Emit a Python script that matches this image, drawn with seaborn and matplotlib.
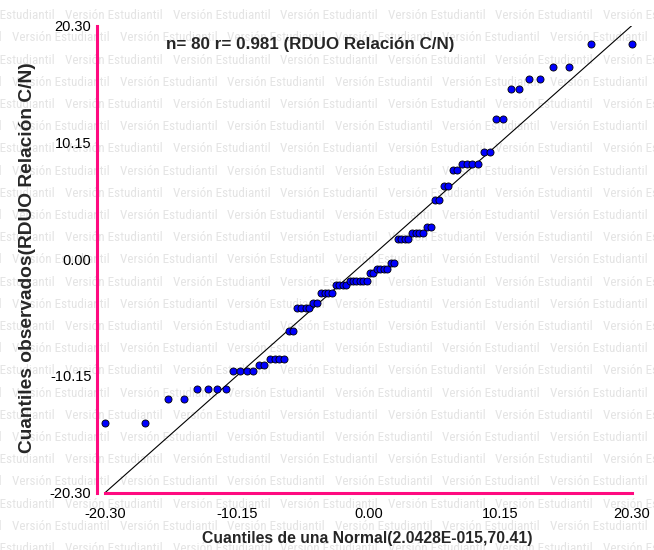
import matplotlib
matplotlib.use("Agg")
import matplotlib.pyplot as plt
from matplotlib import font_manager
import seaborn as sns

# ---------------- data ----------------
# theoretical normal quantiles (x) and observed quantiles (y), read off the chart
theoretical_q = [
    -20.30, -17.19, -15.46, -14.21, -13.22, -12.38, -11.65, -11.00, -10.40, -9.86,
    -9.36, -8.88, -8.44, -8.01, -7.61, -7.22, -6.85, -6.49, -6.14, -5.80,
    -5.48, -5.16, -4.84, -4.54, -4.24, -3.94, -3.65, -3.36, -3.08, -2.80,
    -2.53, -2.25, -1.98, -1.72, -1.45, -1.18, -0.92, -0.66, -0.39, -0.13,
    0.13, 0.39, 0.66, 0.92, 1.18, 1.45, 1.72, 1.98, 2.25, 2.53,
    2.80, 3.08, 3.36, 3.65, 3.94, 4.24, 4.54, 4.84, 5.16, 5.48,
    5.80, 6.14, 6.49, 6.85, 7.22, 7.61, 8.01, 8.44, 8.88, 9.36,
    9.86, 10.40, 11.00, 11.65, 12.38, 13.22, 14.21, 15.46, 17.19, 20.30,
]
observed_q = [
    -14.21, -14.21, -12.17, -12.17, -11.30, -11.30, -11.30, -11.30, -9.71, -9.71,
    -9.71, -9.71, -9.23, -9.23, -8.67, -8.67, -8.67, -8.67, -6.28, -6.28,
    -4.26, -4.26, -4.26, -4.26, -3.77, -3.77, -2.90, -2.90, -2.90, -2.90,
    -2.21, -2.21, -2.21, -2.21, -1.91, -1.91, -1.91, -1.91, -1.91, -1.91,
    -1.22, -1.22, -0.85, -0.85, -0.85, -0.85, -0.30, -0.30, 1.77, 1.77,
    1.77, 1.77, 2.29, 2.29, 2.29, 2.29, 2.77, 2.77, 5.13, 5.13,
    6.37, 6.37, 7.72, 7.72, 8.31, 8.31, 8.31, 8.31, 9.33, 9.33,
    12.17, 12.17, 14.78, 14.78, 15.68, 15.68, 16.70, 16.70, 18.75, 18.75,
]
ref_line = [-20.30, 20.30]
tick_values = [-20.30, -10.15, 0.00, 10.15, 20.30]
tick_labels = ["-20.30", "-10.15", "0.00", "10.15", "20.30"]

title_text = "n= 80 r= 0.981 (RDUO Relación C/N)"
xlabel_text = "Cuantiles de una Normal(2.0428E-015,70.41)"
ylabel_text = "Cuantiles observados(RDUO Relación C/N)"
watermark_text = "Versión Estudiantil"

# ---------------- style ----------------
sns.set_style("white")
plt.rcParams["font.family"] = ["Liberation Sans", "DejaVu Sans"]

def pick_font(cands):
    for c in cands:
        try:
            font_manager.findfont(c, fallback_to_default=False)
            return c
        except Exception:
            pass
    return "Liberation Sans"

wm_font = pick_font(["Liberation Sans Narrow", "Roboto Condensed", "DejaVu Sans Condensed"])

PINK = "#ff0a80"
W, H = 654, 550
fig = plt.figure(figsize=(W / 100, H / 100), dpi=100)
fig.patch.set_facecolor("white")
renderer = fig.canvas.get_renderer()

def fit_size(text, family, weight, size0, target_px, rotation=0):
    t = fig.text(0, 0, text, fontsize=size0, family=family, weight=weight, rotation=rotation)
    bb = t.get_window_extent(renderer)
    t.remove()
    ext = bb.height if rotation else bb.width
    return size0 * target_px / ext

# watermark (behind everything)
wm_size = fit_size(watermark_text, wm_font, "normal", 10, 97)
period = 107.6
row_h = 22.2
for k in range(-1, 26):
    y = 15.7 + row_h * k
    x0 = -42.6 if k % 2 == 0 else 12.0
    for j in range(-1, 8):
        x = x0 + period * j
        fig.text(x / W, 1 - y / H, watermark_text, fontsize=wm_size, family=wm_font,
                 color="#e4e4e4", ha="left", va="center", zorder=-5)

L, R, T, B = 105, 631.7, 25.7, 492.7
ax = fig.add_axes([L / W, 1 - B / H, (R - L) / W, (B - T) / H])
ax.patch.set_alpha(0)
ax.set_zorder(1)

sns.lineplot(x=ref_line, y=ref_line, ax=ax, color="black", linewidth=0.8, zorder=2)
sns.scatterplot(x=theoretical_q, y=observed_q, ax=ax, color="#0000ff", edgecolor="black",
                linewidth=0.6, s=26, zorder=3, clip_on=False)

ax.set_xlim(-20.30, 20.30)
ax.set_ylim(-20.30, 20.30)
ax.set_xticks(tick_values)
ax.set_xticklabels(tick_labels)
ax.set_yticks(tick_values)
ax.set_yticklabels(tick_labels)

for s in ["top", "right"]:
    ax.spines[s].set_visible(False)
for s in ["left", "bottom"]:
    ax.spines[s].set_color(PINK)
    ax.spines[s].set_linewidth(2.2)
ax.spines["left"].set_position(("outward", 5.8))
ax.tick_params(axis="both", colors=PINK, length=2.5, width=2.2, direction="out",
               labelcolor="black", labelsize=10.5)
ax.tick_params(axis="x", pad=8)
ax.tick_params(axis="y", pad=1.5)
ax.set_xlabel("")
ax.set_ylabel("")

title_size = fit_size(title_text, "Liberation Sans", "bold", 12, 288)
xl_size = fit_size(xlabel_text, "Liberation Sans", "bold", 12, 329)
yl_size = fit_size(ylabel_text, "Liberation Sans", "bold", 12, 389, rotation=90)

fig.text(165.7 / W, 1 - 49.3 / H, title_text, fontsize=title_size, weight="bold",
         ha="left", va="baseline", zorder=5)
fig.text(367.5 / W, 1 - 538 / H, xlabel_text, fontsize=xl_size, weight="bold",
         ha="center", va="center")
fig.text(27.5 / W, 1 - 257.5 / H, ylabel_text, fontsize=yl_size, weight="bold",
         ha="center", va="center", rotation=90)

fig.savefig("out.png", dpi=100)
